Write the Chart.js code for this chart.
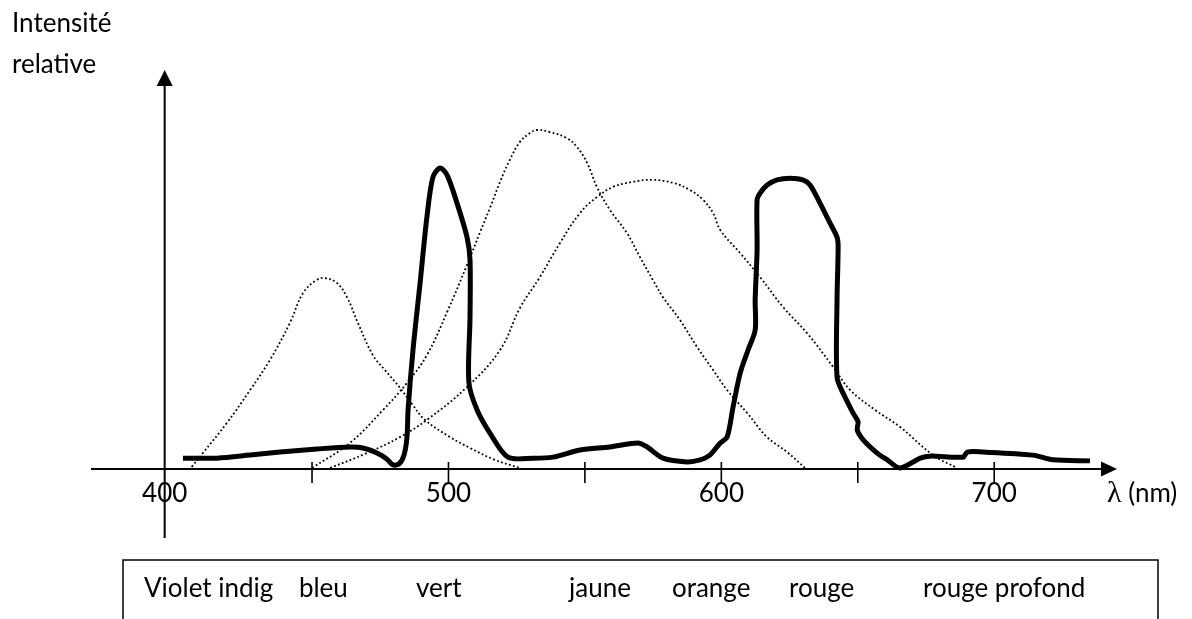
<!DOCTYPE html>
<html>
<head>
<meta charset="utf-8">
<script src="https://cdn.jsdelivr.net/npm/chart.js@4/dist/chart.umd.min.js"></script>
<style>
html,body{margin:0;padding:0;background:#fff;}
#wrap{position:relative;width:1192px;height:619px;}
</style>
</head>
<body>
<div id="wrap"><canvas id="c"></canvas></div>
<script>
// ---- data (wavelength in nm, relative intensity) ----
const sConeNm  = [405.9,410.0,418.8,427.3,434.6,441.9,446.7,451.8,454.8,459.1,462.8,466.8,472.3,476.7,482.2,486.6,491.4,500.6,507.9,517.0,526.2];
const sConeVal = [0.6,4.7,13.6,23.3,32.2,43.1,51.9,55.8,56.3,54.9,50.7,43.1,33.6,29.2,24.0,19.2,14.5,9.4,6.2,2.7,0.3];

const mConeNm  = [450.0,463.9,476.0,484.8,492.1,499.5,506.8,511.6,515.2,518.9,522.5,526.2,529.9,532.4,537.2,543.4,547.1,550.8,554.4,559.2,565.4,570.2,574.9,578.6,584.8,591.1,597.0,602.1,609.5,616.8,624.1,630.7];
const mConeVal = [0.3,7.7,17.4,25.4,33.6,46.3,60.2,69.9,77.0,84.7,91.2,96.5,99.1,100,99.4,97.6,95.0,90.3,83.2,76.4,69.6,62.5,55.8,50.7,44.0,36.0,29.2,23.3,16.5,9.4,5.0,0.3];

const lConeNm  = [456.6,470.1,482.2,492.1,506.8,518.9,526.2,533.5,540.9,548.2,554.4,560.3,567.6,574.9,582.3,588.5,593.3,597.0,599.6,606.9,614.2,622.6,631.4,641.0,647.2,656.4,665.5,677.6,686.4];
const lConeVal = [0.3,4.7,9.4,14.5,24.2,35.1,47.5,56.6,66.7,75.5,80.2,83.2,84.7,85.3,84.4,82.3,79.4,75.5,70.5,63.7,56.6,47.8,40.1,30.1,23.3,17.4,12.4,4.1,0.3];

const spectrumNm  = [402.7,415.2,427.3,438.3,451.8,463.9,468.7,473.8,477.5,479.7,481.9,483.7,484.8,485.2,487.0,489.6,492.1,494.3,496.9,499.5,503.1,506.8,507.9,507.9,507.5,510.5,515.2,521.8,531.0,538.3,548.2,559.2,569.5,572.8,578.6,587.4,592.2,595.8,599.6,602.1,604.3,606.9,609.8,612.4,612.4,613.1,613.1,614.2,616.8,620.4,625.2,629.9,632.5,636.1,639.8,642.4,642.8,642.4,642.4,644.6,648.3,650.1,649.8,652.0,657.1,660.8,665.5,672.9,676.5,688.6,690.1,696.0,714.2,721.5,735.1];
const spectrumVal = [3.2,3.2,4.1,5.0,5.9,6.5,6.2,4.7,2.9,1.2,1.5,4.1,9.4,17.4,35.1,54.9,74.3,86.1,88.8,86.7,78.5,68.4,61.7,44.8,25.4,17.4,10.6,3.5,3.2,3.5,5.6,6.5,7.7,6.5,3.2,2.1,2.7,4.1,7.7,9.4,18.3,28.3,35.1,41.0,49.9,64.6,79.4,81.4,83.8,85.3,85.8,85.3,83.8,78.5,72.6,68.4,65.5,49.9,27.1,22.4,16.5,13.9,11.5,8.6,4.7,2.7,0.3,3.2,3.8,3.5,5.0,5.0,4.1,2.7,2.4];

const tickMarksNm = [450,500,550,600,650,700];
const originLabel = '400';
const tickLabelNm = [500,600,700];
const tickLabels  = ['500','600','700'];
const yAxisAtNm = 396;

const bandNames   = ['Violet indig','bleu','vert','jaune','orange','rouge','rouge profond'];
const bandStartNm = [388.4,445.2,488.1,544.2,581.9,624.8,673.9];

const yTitle = ['Intensité','relative'];
const xTitleSymbol = 'λ';
const xTitleUnit = ' (nm)';

function pts(xs, ys){ return xs.map((v,i)=>({x:v, y:ys[i]})); }

const FONT = '26px Lato';

const overlay = {
  id:'overlay',
  beforeDatasetsDraw(chart){
    const {ctx, chartArea:a, scales:{x,y}} = chart;
    const ox = x.getPixelForValue(yAxisAtNm), oy = y.getPixelForValue(0);
    ctx.save();
    ctx.strokeStyle='#000'; ctx.fillStyle='#000'; ctx.lineWidth=2;
    ctx.beginPath(); ctx.moveTo(a.left, oy); ctx.lineTo(a.right-12, oy); ctx.stroke();
    ctx.beginPath(); ctx.moveTo(a.right, oy); ctx.lineTo(a.right-16, oy-7.5); ctx.lineTo(a.right-16, oy+7.5); ctx.closePath(); ctx.fill();
    ctx.beginPath(); ctx.moveTo(ox, a.bottom); ctx.lineTo(ox, a.top+12); ctx.stroke();
    ctx.beginPath(); ctx.moveTo(ox, a.top); ctx.lineTo(ox-8, a.top+16); ctx.lineTo(ox+8, a.top+16); ctx.closePath(); ctx.fill();
    ctx.lineWidth=1.6;
    tickMarksNm.forEach(v=>{
      const px = x.getPixelForValue(v);
      ctx.beginPath(); ctx.moveTo(px, oy-7); ctx.lineTo(px, oy+14); ctx.stroke();
    });
    ctx.restore();
  },
  afterDraw(chart){
    const {ctx, chartArea:a, scales:{x,y}} = chart;
    const ox = x.getPixelForValue(yAxisAtNm), oy = y.getPixelForValue(0);
    ctx.save();
    ctx.fillStyle='#000'; ctx.strokeStyle='#000';
    ctx.font = FONT; ctx.textBaseline='alphabetic';
    ctx.textAlign='center';
    ctx.fillText(originLabel, ox, oy+33);
    tickLabelNm.forEach((v,i)=> ctx.fillText(tickLabels[i], x.getPixelForValue(v), oy+33));
    ctx.textAlign='left';
    ctx.fillText(yTitle[0], 12, 32);
    ctx.fillText(yTitle[1], 12, 73);
    ctx.font = '30px "Liberation Serif"';
    ctx.fillText(xTitleSymbol, a.right-10, oy+33);
    const w = ctx.measureText(xTitleSymbol).width;
    ctx.font = FONT;
    ctx.fillText(xTitleUnit, a.right-10+w, oy+33);
    ctx.lineWidth=1.5;
    const bx0 = a.left+32, bx1 = a.right+41, by0 = a.bottom+22;
    ctx.beginPath();
    ctx.moveTo(bx0, chart.height+5); ctx.lineTo(bx0, by0); ctx.lineTo(bx1, by0); ctx.lineTo(bx1, chart.height+5);
    ctx.stroke();
    bandNames.forEach((n,i)=> ctx.fillText(n, x.getPixelForValue(bandStartNm[i]), by0+37));
    ctx.restore();
  }
};

const dotted = {borderColor:'#000', borderWidth:1.8, borderDash:[1.8,2.4], tension:0.4, pointRadius:0, fill:false};

new Chart(document.getElementById('c'), {
  type:'line',
  data:{datasets:[
    Object.assign({label:'S', data:pts(sConeNm,sConeVal)}, dotted),
    Object.assign({label:'M', data:pts(mConeNm,mConeVal)}, dotted),
    Object.assign({label:'L', data:pts(lConeNm,lConeVal)}, dotted),
    {label:'spectre', data:pts(spectrumNm,spectrumVal), borderColor:'#000', borderWidth:5, tension:0.3, pointRadius:0, fill:false, borderCapStyle:'butt', borderJoinStyle:'round'}
  ]},
  options:{
    responsive:true, maintainAspectRatio:false, animation:false,
    layout:{padding:{left:91, right:75, top:70, bottom:81}},
    plugins:{legend:{display:false}, tooltip:{enabled:false}},
    scales:{
      x:{type:'linear', min:369, max:745, display:false},
      y:{type:'linear', min:-20.35, max:117.7, display:false}
    }
  },
  plugins:[overlay]
});
</script>
</body>
</html>
